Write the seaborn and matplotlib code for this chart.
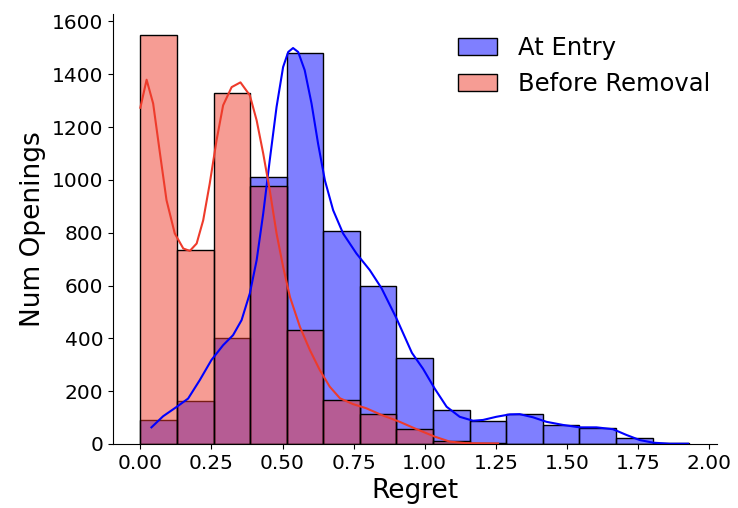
import matplotlib
matplotlib.use("Agg")
import matplotlib.pyplot as plt
import seaborn as sns

# ============================================================================
# DONNEES
# ============================================================================
# centres des 15 classes de regret (0 -> 1.93)
regret_bins = [0.064, 0.193, 0.322, 0.450, 0.579, 0.708, 0.836, 0.965,
               1.094, 1.222, 1.351, 1.480, 1.608, 1.737, 1.866]

counts_entry = [92, 163, 400, 1010, 1480, 805, 600, 325,
                130, 88, 112, 72, 60, 22, 3]
counts_removal = [1550, 735, 1330, 975, 430, 165, 115, 55,
                  12, 3, 0, 0, 0, 0, 0]

# courbes de densité (kde)
kde_entry_x = [0.039, 0.080, 0.127, 0.168, 0.209, 0.250, 0.291, 0.326, 0.356,
               0.385, 0.409, 0.432, 0.455, 0.479, 0.502, 0.520, 0.537, 0.555,
               0.578, 0.602, 0.625, 0.649, 0.678, 0.713, 0.760, 0.807, 0.848,
               0.901, 0.955, 0.994, 1.035, 1.077, 1.123, 1.170, 1.205, 1.252,
               1.299, 1.334, 1.381, 1.428, 1.487, 1.545, 1.604, 1.662, 1.710,
               1.756, 1.803, 1.862, 1.926]
kde_entry_y = [63, 105, 140, 172, 242, 318, 374, 412, 469,
               570, 696, 872, 1074, 1276, 1427, 1484, 1499, 1484,
               1415, 1289, 1137, 998, 885, 797, 721, 658, 590,
               475, 345, 285, 210, 141, 103, 88, 91, 103,
               112, 113, 101, 84, 72, 63, 63, 56, 34,
               15, 5, 1, 1]

kde_removal_x = [0.0, 0.022, 0.045, 0.069, 0.092, 0.121, 0.151, 0.174, 0.198,
                 0.221, 0.244, 0.268, 0.291, 0.321, 0.352, 0.385, 0.409, 0.432,
                 0.455, 0.479, 0.502, 0.526, 0.561, 0.596, 0.631, 0.666, 0.702,
                 0.748, 0.795, 0.848, 0.912, 0.965, 1.035, 1.088, 1.147, 1.258]
kde_removal_y = [1273, 1379, 1289, 1100, 923, 797, 740, 731, 759,
                 847, 986, 1150, 1282, 1351, 1369, 1320, 1225, 1100,
                 961, 797, 671, 557, 444, 356, 280, 217, 173,
                 151, 135, 110, 84, 59, 28, 9, 3, 2]

COLOR_ENTRY = "blue"
COLOR_REMOVAL = "#EE3B2B"

# ============================================================================
# FIGURE
# ============================================================================
fig = plt.figure(figsize=(7.38, 5.08), dpi=100)
ax = fig.add_axes([0.153, 0.126, 0.818, 0.846])

sns.histplot(x=regret_bins, weights=counts_entry, bins=15, binrange=(0, 1.93),
             color=COLOR_ENTRY, alpha=0.5, edgecolor="black", linewidth=1,
             label="At Entry", ax=ax)
sns.lineplot(x=kde_entry_x, y=kde_entry_y, color=COLOR_ENTRY, linewidth=1.5, ax=ax)

sns.histplot(x=regret_bins, weights=counts_removal, bins=15, binrange=(0, 1.93),
             color=COLOR_REMOVAL, alpha=0.5, edgecolor="black", linewidth=1,
             label="Before Removal", ax=ax)
sns.lineplot(x=kde_removal_x, y=kde_removal_y, color=COLOR_REMOVAL, linewidth=1.5, ax=ax)

ax.set_xlim(-0.0965, 2.0265)
ax.set_ylim(0, 1627)
ax.set_xticks([0.0, 0.25, 0.5, 0.75, 1.0, 1.25, 1.5, 1.75, 2.0])
ax.set_xlabel("Regret", fontsize=19)
ax.set_ylabel("Num Openings", fontsize=19)
ax.tick_params(labelsize=14.5)
sns.despine(ax=ax)

ax.legend(loc="upper right", frameon=False, fontsize=17.5, handlelength=1.6,
          handletextpad=0.85, bbox_to_anchor=(1.025, 1.0))

fig.savefig("out.png", dpi=100)
plt.close()
